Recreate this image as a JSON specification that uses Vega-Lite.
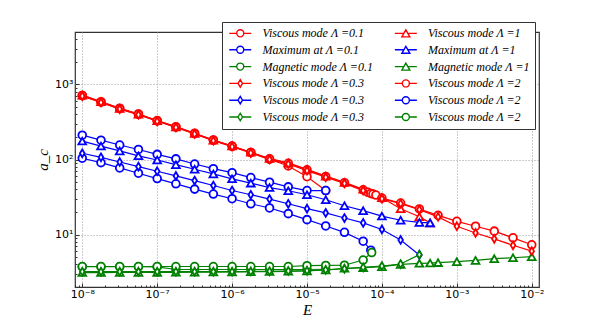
{
"$schema": "https://vega.github.io/schema/vega-lite/v6.json",
"width": 464, "height": 255,
"autosize": {"type": "none"},
"padding": {"left": 75, "top": 32, "right": 61, "bottom": 33},
"background": "white",
"config": {"view": {"stroke": "#333", "strokeWidth": 1.2}},
"data": {"values": [
{"s":"Viscous mode Λ =0.1","E":1e-8,"a":714},{"s":"Viscous mode Λ =0.1","E":1.778e-8,"a":590},{"s":"Viscous mode Λ =0.1","E":3.162e-8,"a":482},{"s":"Viscous mode Λ =0.1","E":5.623e-8,"a":404},{"s":"Viscous mode Λ =0.1","E":1e-7,"a":330},{"s":"Viscous mode Λ =0.1","E":1.778e-7,"a":274},{"s":"Viscous mode Λ =0.1","E":3.162e-7,"a":224},{"s":"Viscous mode Λ =0.1","E":5.623e-7,"a":182},{"s":"Viscous mode Λ =0.1","E":1e-6,"a":151},{"s":"Viscous mode Λ =0.1","E":1.778e-6,"a":124},{"s":"Viscous mode Λ =0.1","E":3.162e-6,"a":101},{"s":"Viscous mode Λ =0.1","E":5.623e-6,"a":82},{"s":"Viscous mode Λ =0.1","E":1e-5,"a":59},{"s":"Viscous mode Λ =0.1","E":1.778e-5,"a":38.6},
{"s":"Viscous mode Λ =0.3","E":1e-8,"a":700},{"s":"Viscous mode Λ =0.3","E":1.778e-8,"a":575},{"s":"Viscous mode Λ =0.3","E":3.162e-8,"a":470},{"s":"Viscous mode Λ =0.3","E":5.623e-8,"a":395},{"s":"Viscous mode Λ =0.3","E":1e-7,"a":323},{"s":"Viscous mode Λ =0.3","E":1.778e-7,"a":268},{"s":"Viscous mode Λ =0.3","E":3.162e-7,"a":219},{"s":"Viscous mode Λ =0.3","E":5.623e-7,"a":178},{"s":"Viscous mode Λ =0.3","E":1e-6,"a":148},{"s":"Viscous mode Λ =0.3","E":1.778e-6,"a":122},{"s":"Viscous mode Λ =0.3","E":3.162e-6,"a":100},{"s":"Viscous mode Λ =0.3","E":5.623e-6,"a":87},{"s":"Viscous mode Λ =0.3","E":1e-5,"a":71},{"s":"Viscous mode Λ =0.3","E":1.778e-5,"a":58},{"s":"Viscous mode Λ =0.3","E":3.162e-5,"a":48},{"s":"Viscous mode Λ =0.3","E":5.623e-5,"a":38.5},{"s":"Viscous mode Λ =0.3","E":1e-4,"a":30},{"s":"Viscous mode Λ =0.3","E":1.778e-4,"a":25.8},{"s":"Viscous mode Λ =0.3","E":3.162e-4,"a":21.5},{"s":"Viscous mode Λ =0.3","E":5.623e-4,"a":17.2},{"s":"Viscous mode Λ =0.3","E":1e-3,"a":12.9},{"s":"Viscous mode Λ =0.3","E":1.778e-3,"a":10.5},{"s":"Viscous mode Λ =0.3","E":3.162e-3,"a":8.77},{"s":"Viscous mode Λ =0.3","E":5.623e-3,"a":7.19},{"s":"Viscous mode Λ =0.3","E":1e-2,"a":6.01},
{"s":"Viscous mode Λ =1","E":1e-8,"a":720},{"s":"Viscous mode Λ =1","E":1.778e-8,"a":588},{"s":"Viscous mode Λ =1","E":3.162e-8,"a":480},{"s":"Viscous mode Λ =1","E":5.623e-8,"a":402},{"s":"Viscous mode Λ =1","E":1e-7,"a":328},{"s":"Viscous mode Λ =1","E":1.778e-7,"a":272},{"s":"Viscous mode Λ =1","E":3.162e-7,"a":222},{"s":"Viscous mode Λ =1","E":5.623e-7,"a":181},{"s":"Viscous mode Λ =1","E":1e-6,"a":151},{"s":"Viscous mode Λ =1","E":1.778e-6,"a":125},{"s":"Viscous mode Λ =1","E":3.162e-6,"a":103},{"s":"Viscous mode Λ =1","E":5.623e-6,"a":90},{"s":"Viscous mode Λ =1","E":1e-5,"a":74},{"s":"Viscous mode Λ =1","E":1.778e-5,"a":60},{"s":"Viscous mode Λ =1","E":3.162e-5,"a":49.5},{"s":"Viscous mode Λ =1","E":5.623e-5,"a":40},{"s":"Viscous mode Λ =1","E":1e-4,"a":31},{"s":"Viscous mode Λ =1","E":1.778e-4,"a":22.1},{"s":"Viscous mode Λ =1","E":3.162e-4,"a":17.3},{"s":"Viscous mode Λ =1","E":4.4e-4,"a":14.3},
{"s":"Viscous mode Λ =2","E":1e-8,"a":710},{"s":"Viscous mode Λ =2","E":1.778e-8,"a":580},{"s":"Viscous mode Λ =2","E":3.162e-8,"a":475},{"s":"Viscous mode Λ =2","E":5.623e-8,"a":400},{"s":"Viscous mode Λ =2","E":1e-7,"a":326},{"s":"Viscous mode Λ =2","E":1.778e-7,"a":271},{"s":"Viscous mode Λ =2","E":3.162e-7,"a":221},{"s":"Viscous mode Λ =2","E":5.623e-7,"a":180},{"s":"Viscous mode Λ =2","E":1e-6,"a":150},{"s":"Viscous mode Λ =2","E":1.778e-6,"a":124},{"s":"Viscous mode Λ =2","E":3.162e-6,"a":102},{"s":"Viscous mode Λ =2","E":5.623e-6,"a":89},{"s":"Viscous mode Λ =2","E":1e-5,"a":73},{"s":"Viscous mode Λ =2","E":1.778e-5,"a":59.5},{"s":"Viscous mode Λ =2","E":3.162e-5,"a":49},{"s":"Viscous mode Λ =2","E":5.623e-5,"a":39.5},{"s":"Viscous mode Λ =2","E":6.5e-5,"a":36.5},{"s":"Viscous mode Λ =2","E":7.1e-5,"a":35.3},{"s":"Viscous mode Λ =2","E":7.6e-5,"a":34.6},{"s":"Viscous mode Λ =2","E":8.3e-5,"a":33.6},{"s":"Viscous mode Λ =2","E":1e-4,"a":30.6},{"s":"Viscous mode Λ =2","E":1.778e-4,"a":26.3},{"s":"Viscous mode Λ =2","E":3.162e-4,"a":21.9},{"s":"Viscous mode Λ =2","E":5.623e-4,"a":18},{"s":"Viscous mode Λ =2","E":1e-3,"a":15},{"s":"Viscous mode Λ =2","E":1.778e-3,"a":12.9},{"s":"Viscous mode Λ =2","E":3.162e-3,"a":11.1},{"s":"Viscous mode Λ =2","E":5.623e-3,"a":9.04},{"s":"Viscous mode Λ =2","E":1e-2,"a":7.31},
{"s":"Maximum at Λ =0.1","E":1e-8,"a":211},{"s":"Maximum at Λ =0.1","E":1.778e-8,"a":181},{"s":"Maximum at Λ =0.1","E":3.162e-8,"a":156},{"s":"Maximum at Λ =0.1","E":5.623e-8,"a":136},{"s":"Maximum at Λ =0.1","E":1e-7,"a":117},{"s":"Maximum at Λ =0.1","E":1.778e-7,"a":102},{"s":"Maximum at Λ =0.1","E":3.162e-7,"a":87},{"s":"Maximum at Λ =0.1","E":5.623e-7,"a":75.5},{"s":"Maximum at Λ =0.1","E":1e-6,"a":66.8},{"s":"Maximum at Λ =0.1","E":1.778e-6,"a":57.4},{"s":"Maximum at Λ =0.1","E":3.162e-6,"a":49.9},{"s":"Maximum at Λ =0.1","E":5.623e-6,"a":43.2},{"s":"Maximum at Λ =0.1","E":1e-5,"a":38.6},{"s":"Maximum at Λ =0.1","E":1.778e-5,"a":38.6},
{"s":"Maximum at Λ =1","E":1e-8,"a":176},{"s":"Maximum at Λ =1","E":1.778e-8,"a":151},{"s":"Maximum at Λ =1","E":3.162e-8,"a":130},{"s":"Maximum at Λ =1","E":5.623e-8,"a":112},{"s":"Maximum at Λ =1","E":1e-7,"a":98.5},{"s":"Maximum at Λ =1","E":1.778e-7,"a":85.3},{"s":"Maximum at Λ =1","E":3.162e-7,"a":74.1},{"s":"Maximum at Λ =1","E":5.623e-7,"a":64.2},{"s":"Maximum at Λ =1","E":1e-6,"a":55.2},{"s":"Maximum at Λ =1","E":1.778e-6,"a":48.4},{"s":"Maximum at Λ =1","E":3.162e-6,"a":42.3},{"s":"Maximum at Λ =1","E":5.623e-6,"a":38.3},{"s":"Maximum at Λ =1","E":1e-5,"a":33.9},{"s":"Maximum at Λ =1","E":1.778e-5,"a":29.1},{"s":"Maximum at Λ =1","E":3.162e-5,"a":24.2},{"s":"Maximum at Λ =1","E":5.623e-5,"a":20.8},{"s":"Maximum at Λ =1","E":1e-4,"a":17.6},{"s":"Maximum at Λ =1","E":1.778e-4,"a":15.5},{"s":"Maximum at Λ =1","E":3.162e-4,"a":14.5},{"s":"Maximum at Λ =1","E":4.4e-4,"a":14.3},
{"s":"Viscous mode Λ =0.3 ","E":1e-8,"a":121},{"s":"Viscous mode Λ =0.3 ","E":1.778e-8,"a":107},{"s":"Viscous mode Λ =0.3 ","E":3.162e-8,"a":92.7},{"s":"Viscous mode Λ =0.3 ","E":5.623e-8,"a":80.3},{"s":"Viscous mode Λ =0.3 ","E":1e-7,"a":69.8},{"s":"Viscous mode Λ =0.3 ","E":1.778e-7,"a":60.4},{"s":"Viscous mode Λ =0.3 ","E":3.162e-7,"a":52.4},{"s":"Viscous mode Λ =0.3 ","E":5.623e-7,"a":45},{"s":"Viscous mode Λ =0.3 ","E":1e-6,"a":38.6},{"s":"Viscous mode Λ =0.3 ","E":1.778e-6,"a":33.9},{"s":"Viscous mode Λ =0.3 ","E":3.162e-6,"a":29.7},{"s":"Viscous mode Λ =0.3 ","E":5.623e-6,"a":25.7},{"s":"Viscous mode Λ =0.3 ","E":1e-5,"a":22.1},{"s":"Viscous mode Λ =0.3 ","E":1.778e-5,"a":19.4},{"s":"Viscous mode Λ =0.3 ","E":3.162e-5,"a":16.6},{"s":"Viscous mode Λ =0.3 ","E":5.623e-5,"a":14.3},{"s":"Viscous mode Λ =0.3 ","E":1e-4,"a":11.7},{"s":"Viscous mode Λ =0.3 ","E":1.778e-4,"a":8.46},{"s":"Viscous mode Λ =0.3 ","E":3.162e-4,"a":5.35},
{"s":"Viscous mode Λ =2 ","E":1e-8,"a":104},{"s":"Viscous mode Λ =2 ","E":1.778e-8,"a":90.8},{"s":"Viscous mode Λ =2 ","E":3.162e-8,"a":77.2},{"s":"Viscous mode Λ =2 ","E":5.623e-8,"a":65.6},{"s":"Viscous mode Λ =2 ","E":1e-7,"a":55.7},{"s":"Viscous mode Λ =2 ","E":1.778e-7,"a":47.4},{"s":"Viscous mode Λ =2 ","E":3.162e-7,"a":40.3},{"s":"Viscous mode Λ =2 ","E":5.623e-7,"a":34.6},{"s":"Viscous mode Λ =2 ","E":1e-6,"a":30},{"s":"Viscous mode Λ =2 ","E":1.778e-6,"a":25.7},{"s":"Viscous mode Λ =2 ","E":3.162e-6,"a":22.6},{"s":"Viscous mode Λ =2 ","E":5.623e-6,"a":19},{"s":"Viscous mode Λ =2 ","E":1e-5,"a":15.8},{"s":"Viscous mode Λ =2 ","E":1.778e-5,"a":13},{"s":"Viscous mode Λ =2 ","E":3.162e-5,"a":10.7},{"s":"Viscous mode Λ =2 ","E":5.623e-5,"a":8.15},{"s":"Viscous mode Λ =2 ","E":7.1e-5,"a":6.19},
{"s":"Magnetic mode Λ =0.1","E":1e-8,"a":3.72},{"s":"Magnetic mode Λ =0.1","E":1.778e-8,"a":3.72},{"s":"Magnetic mode Λ =0.1","E":3.162e-8,"a":3.72},{"s":"Magnetic mode Λ =0.1","E":5.623e-8,"a":3.72},{"s":"Magnetic mode Λ =0.1","E":1e-7,"a":3.7},{"s":"Magnetic mode Λ =0.1","E":1.778e-7,"a":3.42},{"s":"Magnetic mode Λ =0.1","E":3.162e-7,"a":3.42},{"s":"Magnetic mode Λ =0.1","E":5.623e-7,"a":3.42},{"s":"Magnetic mode Λ =0.1","E":1e-6,"a":3.42},{"s":"Magnetic mode Λ =0.1","E":1.778e-6,"a":3.42},{"s":"Magnetic mode Λ =0.1","E":3.162e-6,"a":3.42},{"s":"Magnetic mode Λ =0.1","E":5.623e-6,"a":3.42},{"s":"Magnetic mode Λ =0.1","E":1e-5,"a":3.42},{"s":"Magnetic mode Λ =0.1","E":1.778e-5,"a":3.45},
{"s":"Viscous mode Λ =0.3  ","E":1e-8,"a":3.2},{"s":"Viscous mode Λ =0.3  ","E":1.778e-8,"a":3.2},{"s":"Viscous mode Λ =0.3  ","E":3.162e-8,"a":3.2},{"s":"Viscous mode Λ =0.3  ","E":5.623e-8,"a":3.2},{"s":"Viscous mode Λ =0.3  ","E":1e-7,"a":3.2},{"s":"Viscous mode Λ =0.3  ","E":1.778e-7,"a":3.2},{"s":"Viscous mode Λ =0.3  ","E":3.162e-7,"a":3.2},{"s":"Viscous mode Λ =0.3  ","E":5.623e-7,"a":3.2},{"s":"Viscous mode Λ =0.3  ","E":1e-6,"a":3.2},{"s":"Viscous mode Λ =0.3  ","E":1.778e-6,"a":3.22},{"s":"Viscous mode Λ =0.3  ","E":3.162e-6,"a":3.24},{"s":"Viscous mode Λ =0.3  ","E":5.623e-6,"a":3.27},{"s":"Viscous mode Λ =0.3  ","E":1e-5,"a":3.3},{"s":"Viscous mode Λ =0.3  ","E":1.778e-5,"a":3.38},{"s":"Viscous mode Λ =0.3  ","E":3.162e-5,"a":3.5},{"s":"Viscous mode Λ =0.3  ","E":5.623e-5,"a":3.65},{"s":"Viscous mode Λ =0.3  ","E":1e-4,"a":3.8},{"s":"Viscous mode Λ =0.3  ","E":1.778e-4,"a":4.05},{"s":"Viscous mode Λ =0.3  ","E":3.162e-4,"a":5.4},
{"s":"Magnetic mode Λ =1","E":1e-8,"a":3.11},{"s":"Magnetic mode Λ =1","E":1.778e-8,"a":3.11},{"s":"Magnetic mode Λ =1","E":3.162e-8,"a":3.12},{"s":"Magnetic mode Λ =1","E":5.623e-8,"a":3.12},{"s":"Magnetic mode Λ =1","E":1e-7,"a":3.13},{"s":"Magnetic mode Λ =1","E":1.778e-7,"a":3.14},{"s":"Magnetic mode Λ =1","E":3.162e-7,"a":3.15},{"s":"Magnetic mode Λ =1","E":5.623e-7,"a":3.16},{"s":"Magnetic mode Λ =1","E":1e-6,"a":3.17},{"s":"Magnetic mode Λ =1","E":1.778e-6,"a":3.19},{"s":"Magnetic mode Λ =1","E":3.162e-6,"a":3.21},{"s":"Magnetic mode Λ =1","E":5.623e-6,"a":3.24},{"s":"Magnetic mode Λ =1","E":1e-5,"a":3.27},{"s":"Magnetic mode Λ =1","E":1.778e-5,"a":3.37},{"s":"Magnetic mode Λ =1","E":3.162e-5,"a":3.55},{"s":"Magnetic mode Λ =1","E":5.623e-5,"a":3.62},{"s":"Magnetic mode Λ =1","E":1e-4,"a":3.73},{"s":"Magnetic mode Λ =1","E":1.778e-4,"a":4.0},{"s":"Magnetic mode Λ =1","E":3.162e-4,"a":4.13},{"s":"Magnetic mode Λ =1","E":4.4e-4,"a":4.17},{"s":"Magnetic mode Λ =1","E":5.623e-4,"a":4.22},{"s":"Magnetic mode Λ =1","E":1e-3,"a":4.35},{"s":"Magnetic mode Λ =1","E":1.778e-3,"a":4.52},{"s":"Magnetic mode Λ =1","E":3.162e-3,"a":4.77},{"s":"Magnetic mode Λ =1","E":5.623e-3,"a":4.91},{"s":"Magnetic mode Λ =1","E":1e-2,"a":5.07},
{"s":"Viscous mode Λ =2  ","E":1e-8,"a":3.75},{"s":"Viscous mode Λ =2  ","E":1.778e-8,"a":3.75},{"s":"Viscous mode Λ =2  ","E":3.162e-8,"a":3.75},{"s":"Viscous mode Λ =2  ","E":5.623e-8,"a":3.75},{"s":"Viscous mode Λ =2  ","E":1e-7,"a":3.75},{"s":"Viscous mode Λ =2  ","E":1.778e-7,"a":3.75},{"s":"Viscous mode Λ =2  ","E":3.162e-7,"a":3.75},{"s":"Viscous mode Λ =2  ","E":5.623e-7,"a":3.75},{"s":"Viscous mode Λ =2  ","E":1e-6,"a":3.75},{"s":"Viscous mode Λ =2  ","E":1.778e-6,"a":3.75},{"s":"Viscous mode Λ =2  ","E":3.162e-6,"a":3.75},{"s":"Viscous mode Λ =2  ","E":5.623e-6,"a":3.75},{"s":"Viscous mode Λ =2  ","E":1e-5,"a":3.85},{"s":"Viscous mode Λ =2  ","E":1.778e-5,"a":3.88},{"s":"Viscous mode Λ =2  ","E":3.162e-5,"a":3.9},{"s":"Viscous mode Λ =2  ","E":5.623e-5,"a":4.57},{"s":"Viscous mode Λ =2  ","E":7.3e-5,"a":5.75}
]},
"encoding": {
  "x": {"field": "E", "type": "quantitative", "scale": {"type": "log", "domain": [8e-9, 0.0125], "nice": false},
   "axis": {"orient": "bottom", "values": [8e-9,9e-9,1e-8,2e-8,3e-8,4e-8,5e-8,6e-8,7e-8,8e-8,9e-8,1e-7,2e-7,3e-7,4e-7,5e-7,6e-7,7e-7,8e-7,9e-7,1e-6,2e-6,3e-6,4e-6,5e-6,6e-6,7e-6,8e-6,9e-6,1e-5,2e-5,3e-5,4e-5,5e-5,6e-5,7e-5,8e-5,9e-5,1e-4,2e-4,3e-4,4e-4,5e-4,6e-4,7e-4,8e-4,9e-4,1e-3,2e-3,3e-3,4e-3,5e-3,6e-3,7e-3,8e-3,9e-3,1e-2],
    "labelExpr": "abs(log(datum.value)/LN10 - round(log(datum.value)/LN10)) < 0.001 ? '10⁻' + ['','¹','²','³','⁴','⁵','⁶','⁷','⁸'][-round(log(datum.value)/LN10)] : ''",
    "grid": true, "gridDash": [1, 2], "gridColor": "#999",
    "gridOpacity": {"condition": {"test": "abs(log(datum.value)/LN10 - round(log(datum.value)/LN10)) < 0.001", "value": 1}, "value": 0},
    "tickSize": {"condition": {"test": "abs(log(datum.value)/LN10 - round(log(datum.value)/LN10)) < 0.001", "value": -4}, "value": -2},
    "tickColor": "#333", "domain": false, "labelFont": "DejaVu Sans", "labelFontSize": 11, "labelColor": "black", "labelPadding": 5, "labelOverlap": false, "labelFlush": false,
    "title": "E", "titleFont": "Liberation Serif", "titleFontStyle": "italic", "titleFontWeight": "normal", "titleFontSize": 15, "titleColor": "black", "titlePadding": 1}},
  "y": {"field": "a", "type": "quantitative", "scale": {"type": "log", "domain": [2, 5000], "nice": false},
   "axis": {"orient": "left", "values": [2,3,4,5,6,7,8,9,10,20,30,40,50,60,70,80,90,100,200,300,400,500,600,700,800,900,1000,2000,3000,4000,5000],
    "labelExpr": "abs(log(datum.value)/LN10 - round(log(datum.value)/LN10)) < 0.001 ? '10' + ['⁰','¹','²','³'][round(log(datum.value)/LN10)] : ''",
    "grid": true, "gridDash": [1, 2], "gridColor": "#999",
    "gridOpacity": {"condition": {"test": "abs(log(datum.value)/LN10 - round(log(datum.value)/LN10)) < 0.001", "value": 1}, "value": 0},
    "tickSize": {"condition": {"test": "abs(log(datum.value)/LN10 - round(log(datum.value)/LN10)) < 0.001", "value": -4}, "value": -2},
    "tickColor": "#333", "domain": false, "labelFont": "DejaVu Sans", "labelFontSize": 11, "labelColor": "black", "labelPadding": 6, "labelOverlap": false, "labelFlush": false,
    "title": "a_c", "titleFont": "Liberation Serif", "titleFontStyle": "italic", "titleFontWeight": "normal", "titleFontSize": 15, "titleColor": "black", "titlePadding": 4}},
  "color": {"field": "s", "type": "nominal",
   "scale": {"domain": ["Viscous mode Λ =0.1","Maximum at Λ =0.1","Magnetic mode Λ =0.1","Viscous mode Λ =0.3","Viscous mode Λ =0.3 ","Viscous mode Λ =0.3  ","Viscous mode Λ =1","Maximum at Λ =1","Magnetic mode Λ =1","Viscous mode Λ =2","Viscous mode Λ =2 ","Viscous mode Λ =2  "],
    "range": ["#ff0000","#0000ff","#008000","#ff0000","#0000ff","#008000","#ff0000","#0000ff","#008000","#ff0000","#0000ff","#008000"]},
   "legend": {"title": null, "orient": "none", "legendX": 147, "legendY": -10, "columns": 2,
    "columnPadding": 17.6, "rowPadding": 2.8, "padding": 5, "symbolSize": 56, "symbolStrokeWidth": 1.4, "symbolOffset": 7.25, "symbolFillColor": "white",
    "labelFont": "Liberation Serif", "labelFontStyle": "italic", "labelFontSize": 12, "labelColor": "black", "labelOffset": 16.2, "labelLimit": 300,
    "strokeColor": "#333", "fillColor": "white"}}
},
"layer": [
{"mark": {"type": "line", "strokeWidth": 1.2, "clip": true}},
{"transform": [{"filter": {"field": "s", "oneOf": ["Viscous mode Λ =0.1","Maximum at Λ =0.1","Magnetic mode Λ =0.1","Viscous mode Λ =2","Viscous mode Λ =2 ","Viscous mode Λ =2  "]}}],
 "mark": {"type": "point", "shape": "circle", "filled": false, "fill": "white", "opacity": 1, "size": 60, "strokeWidth": 1.8, "clip": true}},
{"transform": [{"filter": {"field": "s", "oneOf": ["Viscous mode Λ =1","Maximum at Λ =1","Magnetic mode Λ =1"]}}],
 "mark": {"type": "point", "shape": "triangle-up", "filled": false, "fill": "white", "opacity": 1, "size": 60, "strokeWidth": 1.8, "clip": true}},
{"transform": [{"filter": {"field": "s", "oneOf": ["Viscous mode Λ =0.3","Viscous mode Λ =0.3 ","Viscous mode Λ =0.3  "]}}],
 "mark": {"type": "point", "shape": "M0,-1L0.6,0L0,1L-0.6,0Z", "filled": false, "fill": "white", "opacity": 1, "size": 60, "strokeWidth": 1.8, "clip": true}},
{"transform": [{"filter": "datum.a < 0"}],
 "mark": {"type": "point", "filled": false, "opacity": 1, "size": 56, "strokeWidth": 1.4, "clip": true},
 "encoding": {
  "shape": {"field": "s", "type": "nominal",
   "scale": {"domain": ["Viscous mode Λ =0.1","Maximum at Λ =0.1","Magnetic mode Λ =0.1","Viscous mode Λ =0.3","Viscous mode Λ =0.3 ","Viscous mode Λ =0.3  ","Viscous mode Λ =1","Maximum at Λ =1","Magnetic mode Λ =1","Viscous mode Λ =2","Viscous mode Λ =2 ","Viscous mode Λ =2  "],
    "range": [
     "M-2.94,0L-0.94,0M0.94,0L2.94,0M-0.94,0A0.94,0.94 0 1,0 0.94,0A0.94,0.94 0 1,0 -0.94,0Z",
     "M-2.94,0L-0.94,0M0.94,0L2.94,0M-0.94,0A0.94,0.94 0 1,0 0.94,0A0.94,0.94 0 1,0 -0.94,0Z",
     "M-2.94,0L-0.94,0M0.94,0L2.94,0M-0.94,0A0.94,0.94 0 1,0 0.94,0A0.94,0.94 0 1,0 -0.94,0Z",
     "M-2.94,0L-0.6,0M0.6,0L2.94,0M0,-1L0.6,0L0,1L-0.6,0Z",
     "M-2.94,0L-0.6,0M0.6,0L2.94,0M0,-1L0.6,0L0,1L-0.6,0Z",
     "M-2.94,0L-0.6,0M0.6,0L2.94,0M0,-1L0.6,0L0,1L-0.6,0Z",
     "M-2.94,0L-0.535,0M0.535,0L2.94,0M0,-0.93L1.07,0.93L-1.07,0.93Z",
     "M-2.94,0L-0.535,0M0.535,0L2.94,0M0,-0.93L1.07,0.93L-1.07,0.93Z",
     "M-2.94,0L-0.535,0M0.535,0L2.94,0M0,-0.93L1.07,0.93L-1.07,0.93Z",
     "M-2.94,0L-0.94,0M0.94,0L2.94,0M-0.94,0A0.94,0.94 0 1,0 0.94,0A0.94,0.94 0 1,0 -0.94,0Z",
     "M-2.94,0L-0.94,0M0.94,0L2.94,0M-0.94,0A0.94,0.94 0 1,0 0.94,0A0.94,0.94 0 1,0 -0.94,0Z",
     "M-2.94,0L-0.94,0M0.94,0L2.94,0M-0.94,0A0.94,0.94 0 1,0 0.94,0A0.94,0.94 0 1,0 -0.94,0Z"]}}
 }}
]
}
